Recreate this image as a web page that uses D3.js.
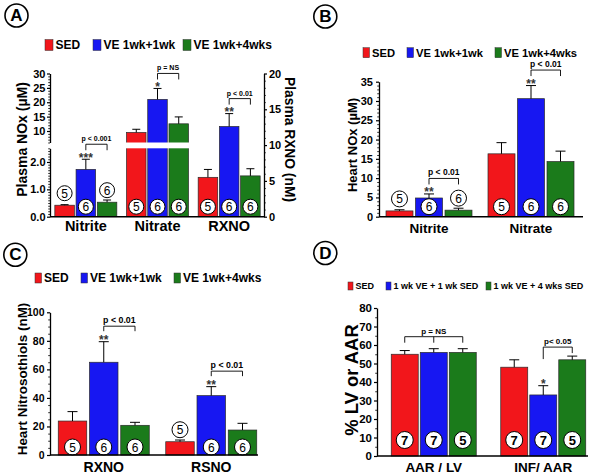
<!DOCTYPE html>
<html><head><meta charset="utf-8">
<script src="https://cdn.jsdelivr.net/npm/d3@7"></script>
<style>
body{margin:0;background:#fff}
svg{display:block}
text{font-family:"Liberation Sans",Arial,Helvetica,sans-serif;font-weight:bold;fill:#000}
</style>
</head><body>
<svg width="603" height="475"></svg>
<script>
// ---------- DATA ----------
const seriesABC = ["SED", "VE 1wk+1wk", "VE 1wk+4wks"];
const seriesD = ["SED", "1 wk VE + 1 wk SED", "1 wk VE + 4 wks SED"];
const colors = ["#f2161b", "#1717f2", "#1b7b1b"];

// Panel A: Plasma NOx (µM) for Nitrite/Nitrate, Plasma RXNO (nM) for RXNO
const catsA = ["Nitrite", "Nitrate", "RXNO"];
const aSED = [0.42, 9.5, 5.5];
const aVE1 = [1.73, 21.0, 12.6];
const aVE4 = [0.53, 12.5, 5.7];
const aSEDerr = [0.02, 1.1, 1.1];
const aVE1err = [0.37, 3.8, 1.8];
const aVE4err = [0.08, 2.4, 1.0];
const aN = [[5, 5, 5], [6, 6, 6], [6, 6, 6]];
const aStars = ["***", "*", "**"];
const aP = ["p < 0.001", "p = NS", "p < 0.01"];
const aTicksLow = [0, 1, 2];
const aTicksHigh = [10, 15, 20, 25, 30];
const aTicksRight = [0, 5, 10, 15, 20];

// Panel B: Heart NOx (µM)
const catsB = ["Nitrite", "Nitrate"];
const bSED = [1.5, 16.3];
const bVE1 = [4.85, 30.6];
const bVE4 = [1.7, 14.3];
const bSEDerr = [0.3, 2.9];
const bVE1err = [1.05, 3.4];
const bVE4err = [0.5, 2.7];
const bN = [[5, 5], [6, 6], [6, 6]];
const bStars = ["**", "**"];
const bP = ["p < 0.01", "p < 0.01"];
const bTicks = [0, 5, 10, 15, 20, 25, 30, 35];

// Panel C: Heart Nitrosothiols (nM)
const catsC = ["RXNO", "RSNO"];
const cSED = [23.8, 9.3];
const cVE1 = [65.0, 41.6];
const cVE4 = [20.8, 17.5];
const cSEDerr = [6.6, 1.2];
const cVE1err = [14.4, 6.3];
const cVE4err = [2.1, 4.7];
const cN = [[5, 5], [6, 6], [6, 6]];
const cStars = ["**", "**"];
const cP = ["p < 0.01", "p < 0.01"];
const cTicks = [0, 20, 40, 60, 80, 100];

// Panel D: % LV or AAR
const catsD = ["AAR / LV", "INF/ AAR"];
const dSED = [55, 48];
const dVE1 = [56, 33];
const dVE4 = [56, 52];
const dSEDerr = [2, 4];
const dVE1err = [2, 5];
const dVE4err = [2, 2];
const dN = [[7, 7], [7, 7], [5, 5]];
const dStars = ["", "*"];
const dP = ["p = NS", "p< 0.05"];
const dTicks = [0, 10, 20, 30, 40, 50, 60, 70, 80];

// ---------- DRAWING ----------
const svg = d3.select("svg");

function yAxis(g, scale, x, major, minorStep, side, fs, tsize, pad) {
  const mk = () => side === "left" ? d3.axisLeft(scale) : d3.axisRight(scale);
  const [d0, d1] = scale.domain();
  const minor = d3.range(Math.ceil(d0 / minorStep - 1e-9) * minorStep, d1 + 1e-9, minorStep)
    .filter(v => !major.some(m => Math.abs(m - v) < 1e-9));
  const gm = g.append("g").attr("transform", `translate(${x},0)`)
    .call(mk().tickValues(minor).tickSize(1.8).tickSizeOuter(0).tickFormat(""));
  gm.select(".domain").remove();
  gm.selectAll("line").attr("stroke", "#000").attr("stroke-width", 0.8);
  const ga = g.append("g").attr("transform", `translate(${x},0)`)
    .call(mk().tickValues(major).tickSize(tsize).tickSizeOuter(0).tickPadding(pad));
  ga.select(".domain").attr("stroke", "#000").attr("stroke-width", 1.3);
  ga.selectAll("line").attr("stroke", "#000").attr("stroke-width", 1.2);
  ga.selectAll("text").style("font-size", fs + "px").style("font-family", "Liberation Sans,Arial,sans-serif").style("font-weight", "bold");
}

function panelLetter(cx, cy, letter) {
  svg.append("circle").attr("cx", cx).attr("cy", cy).attr("r", 11.5)
    .attr("fill", "#fff").attr("stroke", "#000").attr("stroke-width", 1.6);
  svg.append("text").attr("x", cx).attr("y", cy).attr("text-anchor", "middle")
    .attr("dominant-baseline", "central").style("font-size", "17px").text(letter);
}

function legend(series, xs, y, fs, sw, sh) {
  series.forEach((s, i) => {
    svg.append("rect").attr("x", xs[i]).attr("y", y - sh / 2).attr("width", sw).attr("height", sh)
      .attr("fill", colors[i]).attr("stroke", "#333").attr("stroke-width", 0.5);
    svg.append("text").attr("x", xs[i] + sw + 2.5).attr("y", y).attr("dominant-baseline", "central")
      .style("font-size", fs + "px").text(s);
  });
}

function drawBars(p) {
  const g = svg.append("g");
  const x = d3.scalePoint().domain(p.cats).range(p.xRange).padding(0.5);
  const xs = d3.scaleBand().domain(p.series).range([-p.groupHalf, p.groupHalf]).paddingInner(p.inner);
  const bw = xs.bandwidth();
  const info = p.cats.map(() => []);
  p.cats.forEach((c, ci) => {
    const y = p.yFor(ci);
    p.series.forEach((s, si) => {
      const v = p.means[si][ci], e = p.errs[si][ci];
      const x0 = x(c) + xs(s), cx = x0 + bw / 2;
      const yt = y(v), ye = y(v + e);
      g.append("rect").attr("x", x0).attr("y", yt).attr("width", bw).attr("height", p.base - yt)
        .attr("fill", colors[si]).attr("stroke", "#2a2a2a").attr("stroke-width", 0.7);
      g.append("line").attr("x1", cx).attr("x2", cx).attr("y1", yt).attr("y2", ye)
        .attr("stroke", "#000").attr("stroke-width", 1);
      g.append("line").attr("x1", cx - p.cap / 2).attr("x2", cx + p.cap / 2).attr("y1", ye).attr("y2", ye)
        .attr("stroke", "#000").attr("stroke-width", 1);
      info[ci].push({ cx, yt, ye });
    });
  });
  if (p.gap) {
    const c = p.cats[p.gap.cat];
    g.append("rect").attr("x", x(c) - p.groupHalf - 2).attr("y", p.gap.y0)
      .attr("width", 2 * p.groupHalf + 4).attr("height", p.gap.y1 - p.gap.y0).attr("fill", "#fff");
  }
  p.cats.forEach((c, ci) => {
    p.series.forEach((s, si) => {
      const d = info[ci][si];
      const inside = (p.base - d.yt) > 17;
      const cy = inside ? p.base - p.nInset : d.yt - 12;
      g.append("circle").attr("cx", d.cx).attr("cy", cy).attr("r", p.nR)
        .attr("fill", "#fff").attr("stroke", "#000").attr("stroke-width", 1);
      g.append("text").attr("x", d.cx).attr("y", cy + 0.5).attr("text-anchor", "middle")
        .attr("dominant-baseline", "central").style("font-size", p.nFs + "px")
        .style("font-weight", p.nBold ? "bold" : "normal").text(p.ns[si][ci]);
    });
  });
  p.cats.forEach((c, ci) => {
    const a = p.ann[ci];
    const d = info[ci];
    if (a.star) {
      g.append("text").attr("x", d[1].cx).attr("y", d[1].ye + 2.5).attr("text-anchor", "middle")
        .style("font-size", "12px").style("fill", "#333").text(a.star);
    }
    const idx = a.legs.map(l => l[0]);
    const top = d3.min(idx, i => d[i].ye) - a.off;
    const xL = d3.min(idx, i => d[i].cx), xR = d3.max(idx, i => d[i].cx);
    g.append("line").attr("x1", xL).attr("x2", xR).attr("y1", top).attr("y2", top)
      .attr("stroke", "#000").attr("stroke-width", 0.9);
    a.legs.forEach(([i, len]) => {
      g.append("line").attr("x1", d[i].cx).attr("x2", d[i].cx).attr("y1", top).attr("y2", top + len)
        .attr("stroke", "#000").attr("stroke-width", 0.9);
    });
    const xm = a.pAt !== undefined ? d[a.pAt].cx : (xL + xR) / 2;
    g.append("text").attr("x", xm).attr("y", top - 3).attr("text-anchor", "middle")
      .style("font-size", p.pFs + "px").text(a.p);
  });
  g.append("line").attr("x1", p.xAxis[0]).attr("x2", p.xAxis[1]).attr("y1", p.base).attr("y2", p.base)
    .attr("stroke", "#000").attr("stroke-width", 1.4);
  p.cats.forEach(c => {
    g.append("text").attr("x", x(c)).attr("y", p.labelY).attr("text-anchor", "middle")
      .style("font-size", p.labelFs + "px").text(c);
  });
  return g;
}

function yTitle(x, y, txt, fs, rot) {
  svg.append("text").attr("transform", `translate(${x},${y}) rotate(${rot})`)
    .attr("text-anchor", "middle").attr("dominant-baseline", "central")
    .style("font-size", fs + "px").text(txt);
}

// ----- Panel A -----
const baseA = 216.7;
const yALow = d3.scaleLinear().domain([0, 2.5]).range([baseA, 148.3]);
const yAHigh = d3.scaleLinear().domain([6, 30]).range([142.5, 73.5]);
const yARight = d3.scaleLinear().domain([0, 20]).range([baseA, 73.5]);
panelLetter(16.5, 15.5, "A");
legend(seriesABC, [45, 93, 183], 45, 12, 8, 11);
drawBars({
  cats: catsA, series: seriesABC, means: [aSED, aVE1, aVE4], errs: [aSEDerr, aVE1err, aVE4err],
  ns: aN, yFor: ci => ci === 0 ? yALow : ci === 1 ? yAHigh : yARight,
  xRange: [50, 265], groupHalf: 31, inner: 0.08, base: baseA, cap: 8,
  nInset: 10, nR: 7.5, nFs: 12, nBold: false, pFs: 7,
  gap: { cat: 1, y0: 142.5, y1: 148.3 },
  ann: catsA.map((c, i) => ({ star: aStars[i], p: aP[i], off: 15, legs: [[1, 6], [2, 6]] })),
  xAxis: [50, 264], labelY: 231, labelFs: 14.5
});
const gA = svg.append("g");
yAxis(gA, yAHigh, 50, aTicksHigh, 1, "left", 11, 3, 1.5);
yAxis(gA, yALow, 50, aTicksLow, 0.1, "left", 11, 3, 1.5);
yAxis(gA, yARight, 264, aTicksRight, 1, "right", 11, 3, 2);
yTitle(22, 139.5, "Plasma NOx (µM)", 14, -90);
yTitle(289.5, 139.5, "Plasma RXNO (nM)", 13.8, 90);

// ----- Panel B -----
const baseB = 216.7;
const yB = d3.scaleLinear().domain([0, 35]).range([baseB, 81.7]);
panelLetter(325.3, 16.5, "B");
legend(seriesABC, [363, 407, 495], 52.7, 11.2, 6.5, 10);
drawBars({
  cats: catsB, series: seriesABC, means: [bSED, bVE1, bVE4], errs: [bSEDerr, bVE1err, bVE4err],
  ns: bN, yFor: () => yB, xRange: [378, 582], groupHalf: 43, inner: 0.085, base: baseB, cap: 10,
  nInset: 10, nR: 8, nFs: 12, nBold: false, pFs: 8.5,
  ann: catsB.map((c, i) => ({ star: bStars[i], p: bP[i], off: 15.5, legs: [[1, 6], [2, 6]] })),
  xAxis: [379, 583], labelY: 233, labelFs: 13.5
});
yAxis(svg.append("g"), yB, 379, bTicks, 1, "left", 11, 3, 3);
yTitle(352.5, 145, "Heart NOx (µM)", 13, -90);

// ----- Panel C -----
const baseC = 455;
const yC = d3.scaleLinear().domain([0, 100]).range([baseC, 312.3]);
panelLetter(15.3, 254.7, "C");
legend(seriesABC, [35, 81, 174], 278, 12, 6.5, 10);
drawBars({
  cats: catsC, series: seriesABC, means: [cSED, cVE1, cVE4], errs: [cSEDerr, cVE1err, cVE4err],
  ns: cN, yFor: () => yC, xRange: [50, 265], groupHalf: 45.5, inner: 0.088, base: baseC, cap: 10,
  nInset: 8, nR: 8, nFs: 12, nBold: false, pFs: 8.8,
  ann: catsC.map((c, i) => ({ star: cStars[i], p: cP[i], off: 15.5, legs: [[1, 5], [2, 5]] })),
  xAxis: [50, 258], labelY: 472, labelFs: 14
});
yAxis(svg.append("g"), yC, 50, cTicks, 5, "left", 10.5, 3, 2.5);
yTitle(22.5, 379, "Heart Nitrosothiols (nM)", 13.4, -90);

// ----- Panel D -----
const baseD = 456;
const yD = d3.scaleLinear().domain([0, 80]).range([baseD, 308]);
panelLetter(325.3, 253, "D");
legend(seriesD, [348, 386, 486], 286, 9, 5, 8);
drawBars({
  cats: catsD, series: seriesD, means: [dSED, dVE1, dVE4], errs: [dSEDerr, dVE1err, dVE4err],
  ns: dN, yFor: () => yD, xRange: [379, 598], groupHalf: 42.5, inner: 0.07, base: baseD, cap: 10,
  nInset: 16, nR: 8.5, nFs: 13, nBold: true, pFs: 8,
  ann: [
    { star: dStars[0], p: dP[0], off: 12, legs: [[0, 6], [1, 6], [2, 6]], pAt: 1 },
    { star: dStars[1], p: dP[1], off: 9, legs: [[1, 12], [2, 6]] }
  ],
  xAxis: [377, 588], labelY: 472, labelFs: 13.5
});
yAxis(svg.append("g"), yD, 377, dTicks, 5, "left", 11.5, 3, 2);
yTitle(351, 380, "% LV or AAR", 18.4, -90);
</script>
</body></html>
